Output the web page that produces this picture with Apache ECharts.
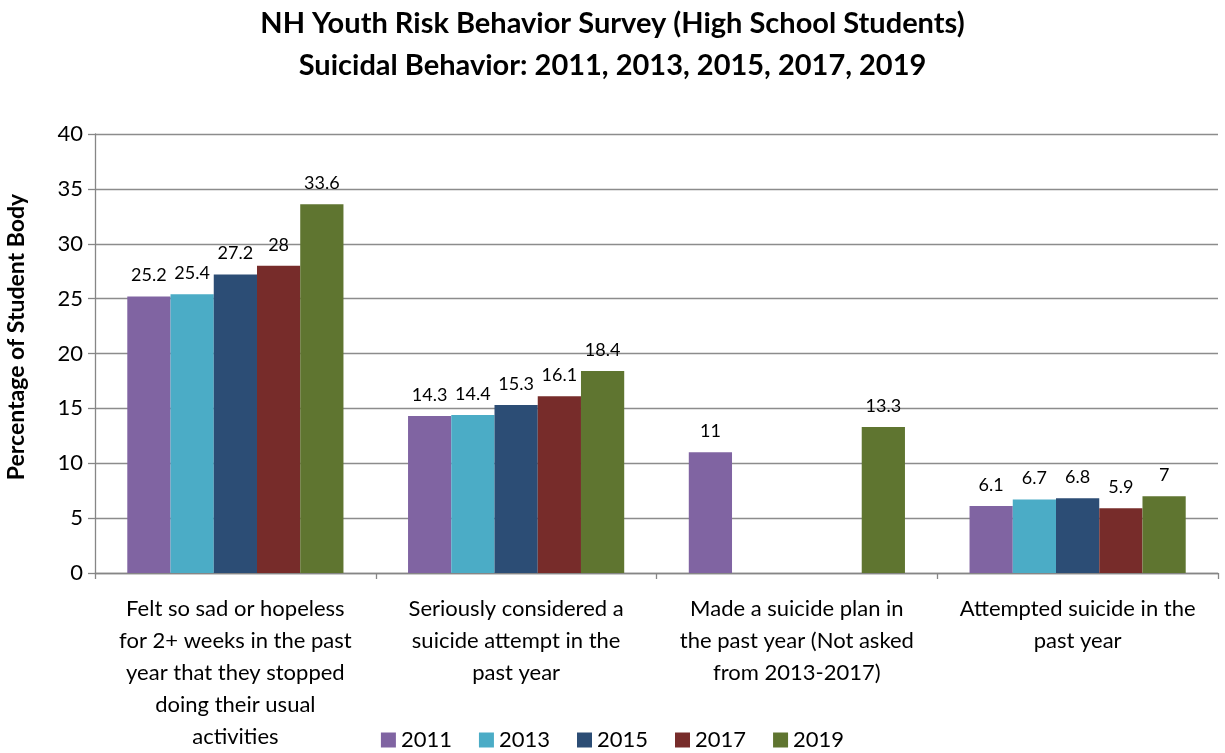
<!DOCTYPE html>
<html>
<head>
<meta charset="utf-8">
<script src="https://cdn.jsdelivr.net/npm/echarts@6/dist/echarts.min.js"></script>
<style>html,body{margin:0;padding:0;background:#fff}#c{width:1225px;height:753px}</style>
</head>
<body>
<div id="c"></div>
<script>
const categories = [
  "Felt so sad or hopeless\nfor 2+ weeks in the past\nyear that they stopped\ndoing their usual\nactivities",
  "Seriously considered a\nsuicide attempt in the\npast year",
  "Made a suicide plan in\nthe past year (Not asked\nfrom 2013-2017)",
  "Attempted suicide in the\npast year"
];
const years = ["2011", "2013", "2015", "2017", "2019"];
const v2011 = [25.2, 14.3, 11, 6.1];
const v2013 = [25.4, 14.4, null, 6.7];
const v2015 = [27.2, 15.3, null, 6.8];
const v2017 = [28, 16.1, null, 5.9];
const v2019 = [33.6, 18.4, 13.3, 7];
const colors = ["#8064A2", "#4BACC6", "#2C4D75", "#772C2A", "#5F7530"];
const titleText = "NH Youth Risk Behavior Survey (High School Students)\nSuicidal Behavior: 2011, 2013, 2015, 2017, 2019";
const yName = "Percentage of Student Body";

const FONT = "Lato, 'Open Sans', sans-serif";
const seriesData = [v2011, v2013, v2015, v2017, v2019];
const chart = echarts.init(document.getElementById('c'));
chart.setOption({
  animation: false,
  textStyle: { fontFamily: FONT },
  title: {
    text: titleText,
    left: 'center', top: -2,
    textStyle: { fontFamily: FONT, fontSize: 29, fontWeight: 'bold', color: '#000', lineHeight: 42 }
  },
  graphic: [{
    type: 'text', x: 17, y: 337, rotation: Math.PI / 2,
    style: { text: yName, fontFamily: FONT, fontSize: 23, fontWeight: 'bold', fill: '#000', textAlign: 'center', textVerticalAlign: 'middle' }
  }],
  legend: {
    bottom: -3, left: 'center',
    itemWidth: 15, itemHeight: 15, itemGap: 27,
    icon: 'rect',
    textStyle: { fontFamily: FONT, fontSize: 22, color: '#000' },
    data: years
  },
  grid: { left: 95, right: 7, top: 134, bottom: 180 },
  xAxis: {
    type: 'category', data: categories,
    axisLine: { lineStyle: { color: '#868686', width: 1.3 } },
    axisTick: { show: true, length: 6, lineStyle: { color: '#868686', width: 1.3 } },
    axisLabel: { interval: 0, margin: 20, fontFamily: FONT, fontSize: 22, lineHeight: 32, color: '#000', align: 'center' }
  },
  yAxis: {
    type: 'value', min: 0, max: 40, interval: 5,
    axisLine: { show: true, lineStyle: { color: '#868686', width: 1.3 } },
    axisTick: { show: true, length: 7, lineStyle: { color: '#868686', width: 1.3 } },
    splitLine: { lineStyle: { color: '#8c8c8c', width: 1.3 } },
    axisLabel: { fontFamily: FONT, fontSize: 22, color: '#000', margin: 12 }
  },
  series: years.map((y, i) => ({
    name: y, type: 'bar', data: seriesData[i],
    barGap: '0%', barCategoryGap: '23%',
    itemStyle: { color: colors[i] },
    label: { show: true, position: 'top', distance: 12, fontFamily: FONT, fontSize: 18, color: '#000' }
  }))
});
</script>
</body>
</html>
